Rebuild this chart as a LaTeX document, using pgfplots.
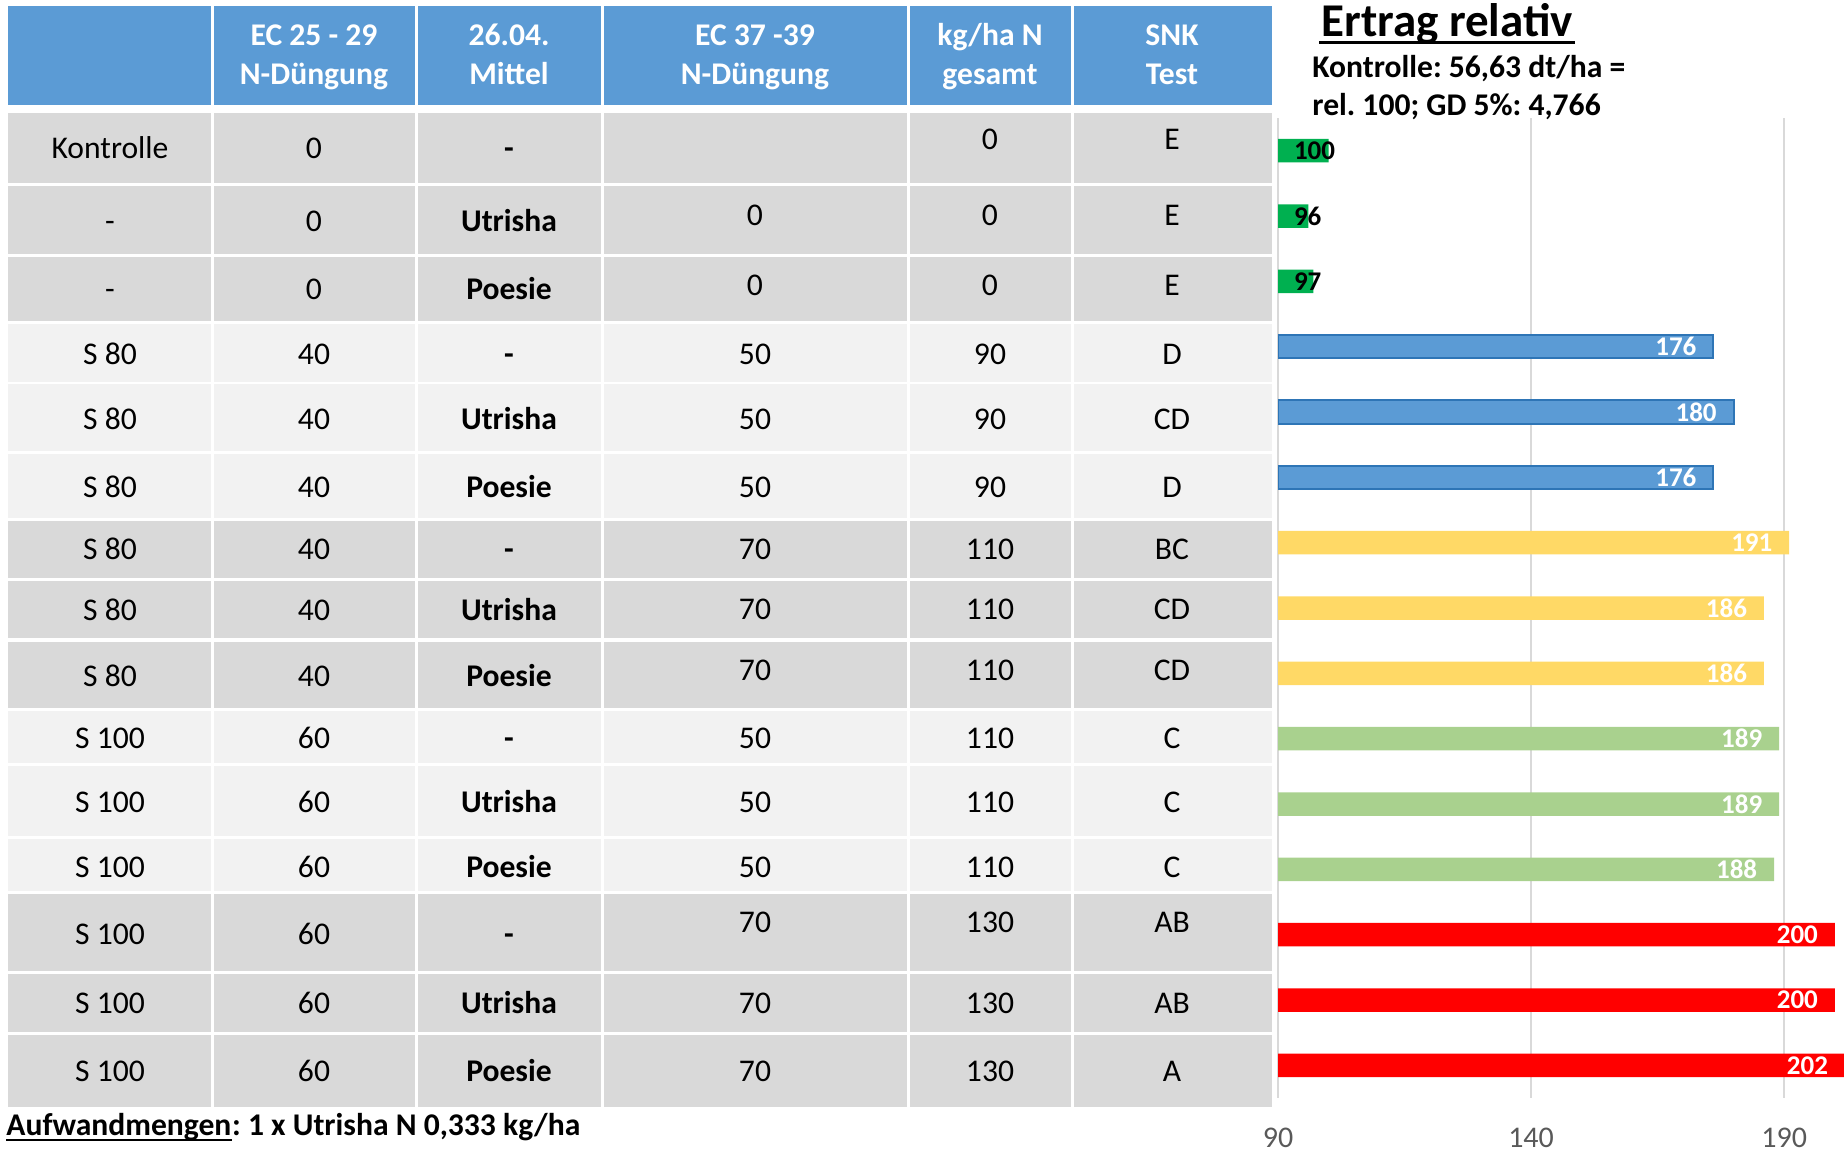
\documentclass[border=0pt]{standalone}
\usepackage{fontspec}
\setmainfont{Carlito}
\usepackage{pgfplots}
\pgfplotsset{compat=1.18}
\definecolor{hdr}{HTML}{5B9BD5}
\definecolor{dk}{HTML}{D9D9D9}
\definecolor{lt}{HTML}{F2F2F2}
\definecolor{bgreen}{HTML}{00B050}
\definecolor{bblue}{HTML}{5B9BD5}
\definecolor{bblueE}{HTML}{2E75B6}
\definecolor{byellow}{HTML}{FFD966}
\definecolor{blgreen}{HTML}{A9D18E}
\definecolor{bred}{HTML}{FF0000}
\definecolor{gridc}{HTML}{D9D9D9}
\definecolor{tickc}{HTML}{595959}
\frenchspacing
\newcommand{\bodyfont}{\fontsize{15.8}{19}\selectfont}
\tikzset{T/.style={anchor=base, inner sep=0pt, font=\bodyfont},
         H/.style={anchor=base, inner sep=0pt, font=\bfseries\bodyfont, text=white}}
\newcommand{\rowtxt}[8]{%
  \node[T] at (110,#1) {#3};
  \node[T] at (314,#1) {#4};
  \node[T] at (509,#1) {\bfseries #5};
  \node[T] at (755,#2) {#6};
  \node[T] at (990,#2) {#7};
  \node[T] at (1172,#2) {#8};}
\begin{document}
\begin{tikzpicture}[x=0.5pt,y=-0.5pt]
\useasboundingbox (0,0) rectangle (1844,1152);
\clip (0,0) rectangle (1844,1152);
% header cells
\foreach \a/\b in {8/210.5, 213.5/415, 418/600.5, 603.5/907, 910/1070.5, 1073.5/1272}{
  \fill[hdr] (\a,6) rectangle (\b,104.7);
}
% body cells
\foreach \t/\bt/\c in {112.7/182.7/dk, 186/254/dk, 257.3/320.7/dk, 324/381.7/lt, 384.3/451/lt, 454/517.7/lt, 521/577.7/dk, 581/638.3/dk, 641.7/707.7/dk, 711/763.3/lt, 766/836/lt, 839.3/891/lt, 894/970.7/dk, 974/1031.7/dk, 1035/1106.7/dk}{
  \foreach \a/\b in {8/210.5, 213.5/415, 418/600.5, 603.5/907, 910/1070.5, 1073.5/1272}{
    \fill[\c] (\a,\t) rectangle (\b,\bt);
  }
}
% header text
\node[H] at (314,45.5) {EC 25 - 29};  \node[H] at (314,84) {N-Düngung};
\node[H] at (509,45.5) {26.04.};      \node[H] at (509,84) {Mittel};
\node[H] at (755,45.5) {EC 37 -39};   \node[H] at (755,84) {N-Düngung};
\node[H] at (990,45.5) {kg/ha N};     \node[H] at (990,84) {gesamt};
\node[H] at (1172,45.5) {SNK};        \node[H] at (1172,84) {Test};
% body text
\rowtxt{158}{149}{Kontrolle}{0}{-}{}{0}{E}
\rowtxt{231}{225}{-}{0}{Utrisha}{0}{0}{E}
\rowtxt{299}{295}{-}{0}{Poesie}{0}{0}{E}
\rowtxt{364}{364}{S 80}{40}{-}{50}{90}{D}
\rowtxt{429}{429}{S 80}{40}{Utrisha}{50}{90}{CD}
\rowtxt{497}{497}{S 80}{40}{Poesie}{50}{90}{D}
\rowtxt{559}{559}{S 80}{40}{-}{70}{110}{BC}
\rowtxt{620}{619}{S 80}{40}{Utrisha}{70}{110}{CD}
\rowtxt{686}{680}{S 80}{40}{Poesie}{70}{110}{CD}
\rowtxt{748}{748}{S 100}{60}{-}{50}{110}{C}
\rowtxt{812}{812}{S 100}{60}{Utrisha}{50}{110}{C}
\rowtxt{877}{877}{S 100}{60}{Poesie}{50}{110}{C}
\rowtxt{944}{932}{S 100}{60}{-}{70}{130}{AB}
\rowtxt{1013}{1013}{S 100}{60}{Utrisha}{70}{130}{AB}
\rowtxt{1081}{1081}{S 100}{60}{Poesie}{70}{130}{A}
% titles
\node[anchor=base west, inner sep=0pt, font=\bfseries\fontsize{23.5}{28}\selectfont] (TT) at (1321,36) {Ertrag relativ};
\draw[line width=1.75pt] ([yshift=-3.35pt,xshift=-1pt]TT.base west) -- ([yshift=-3.35pt,xshift=1pt]TT.base east);
\node[anchor=base west, inner sep=0pt, font=\bfseries\bodyfont] at (1312,77) {Kontrolle: 56,63 dt/ha =};
\node[anchor=base west, inner sep=0pt, font=\bfseries\bodyfont] at (1312,115.5) {rel. 100; GD 5\%: 4,766};
% bottom note
\node[anchor=base west, inner sep=0pt, font=\bfseries\bodyfont] (AA) at (6,1135) {Aufwandmengen};
\node[anchor=base west, inner sep=0pt, font=\bfseries\bodyfont] at (AA.base east) {: 1 x Utrisha N 0,333 kg/ha};
\draw[line width=1.2pt] ([yshift=-2.4pt]AA.base west) -- ([yshift=-2.4pt]AA.base east);
\node[anchor=base west, inner sep=0pt, font=\bfseries\bodyfont] at (249.6,1176) {1 x Poesie 1 l/ha};
% chart
\coordinate (AO) at (1278,1098);
\begin{axis}[
  at={(AO)}, anchor=south west,
  scale only axis, width=288.5pt, height=490pt,
  xmin=90, xmax=204, ymin=0.5, ymax=15.5, y dir=reverse,
  axis line style={draw=none},
  ytick=\empty, xtick={90,140,190},
  major tick length=0pt,
  xmajorgrids, major grid style={draw=gridc, line width=1.2pt},
  xticklabel style={font=\fontsize{15}{18}\selectfont, text=tickc, yshift=-11.5pt},
  /pgf/number format/assume math mode=true,
]
\addplot[xbar, bar width=0.36, bar shift=0pt, fill=bgreen, draw=none] coordinates {(100,1) (96,2) (97,3)};
\addplot[xbar, bar width=0.36, bar shift=0pt, fill=bblue, draw=bblueE, line width=1pt] coordinates {(176,4) (180,5) (176,6)};
\addplot[xbar, bar width=0.36, bar shift=0pt, fill=byellow, draw=none] coordinates {(191,7) (186,8) (186,9)};
\addplot[xbar, bar width=0.36, bar shift=0pt, fill=blgreen, draw=none] coordinates {(189,10) (189,11) (188,12)};
\addplot[xbar, bar width=0.36, bar shift=0pt, fill=bred, draw=none] coordinates {(200,13) (200,14) (202,15)};
\addplot[draw=none, mark=none, nodes near coords, point meta=explicit symbolic,
  every node near coord/.append style={anchor=east, inner sep=0pt, xshift=-8.25pt, text=white, font=\bfseries\fontsize{13.5}{16}\selectfont}]
  coordinates {(176,4) [176] (180,5) [180] (176,6) [176] (191,7) [191] (186,8) [186] (186,9) [186] (189,10) [189] (189,11) [189] (188,12) [188] (200,13) [200] (200,14) [200] (202,15) [202]};
\addplot[draw=none, mark=none, nodes near coords, point meta=explicit symbolic,
  every node near coord/.append style={anchor=west, inner sep=0pt, xshift=7.8pt, text=black, font=\bfseries\fontsize{13.5}{16}\selectfont}]
  coordinates {(90,1) [100] (90,2) [96] (90,3) [97]};
\end{axis}
\end{tikzpicture}
\end{document}
